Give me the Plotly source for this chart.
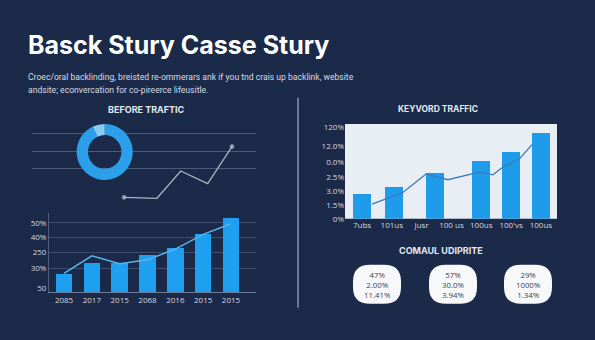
import plotly.graph_objects as go

W, H = 595, 340
BG = "#1b2a48"

# ---------------- data ----------------
trend_years = ["2085", "2017", "2015", "2068", "2016", "2015", "2015"]
trend_bars = [19, 30, 30, 38, 45, 60, 76]
trend_line = [19, 37, 29, 33, 44, 59, 70]
trend_tickvals = [71, 56, 41, 24, 4]
trend_ticktext = ["50%", "40%", "250", "30%", "50"]
trend_gridvals = [71, 56, 41, 24]

kw_labels = ["7ubs", "101us", "Jusr", "100 us", "100us", "100'vs", "100us"]
kw_bar_pos = [0, 1.07, 2.45, 3.98, 5.0, 6.0]
kw_bars = [25, 32, 47, 59, 68, 88]
kw_line_x = [0.34, 1.37, 2.15, 2.88, 3.96, 4.39, 4.73, 5.3, 5.7]
kw_line_y = [15, 27, 46, 40, 48, 45, 53, 62, 76]
kw_tickvals = [94, 74, 58, 43, 28, 14, 0]
kw_ticktext = ["120%", "12.0%", "0.0%", "2.5%", "3.0%", "1.5%", "0%"]

before_x = [0, 1.22, 2.1, 3.1, 4.0]
before_y = [11, 10, 38, 25, 63]
before_grid = [40, 58, 76]
donut_values = [93, 7]

stats = [["47%", "2.00%", "11.41%"],
         ["57%", "30.0%", "3.94%"],
         ["29%", "1000%", "1.34%"]]

title = "Basck Stury Casse Stury"
subtitle = ["Croec/oral backlinding, breisted re-ommerars ank if you tnd crais up backlink, website",
            "andsite; econvercation for co-pireerce lifeusitle."]


def px(x):
    return x / W


def py(y):
    return 1 - y / H


TICKFONT = dict(family="Open Sans", size=8, color="#d3d9e3")

fig = go.Figure()

# left bottom bar chart
fig.add_trace(go.Bar(x=list(range(len(trend_bars))), y=trend_bars, width=0.6,
                     marker=dict(color="#1f9ff0", line=dict(width=0)),
                     xaxis="x", yaxis="y", hoverinfo="skip"))
fig.add_trace(go.Scatter(x=list(range(len(trend_line))), y=trend_line, mode="lines",
                         line=dict(color="#5ab4ec", width=1.5),
                         xaxis="x", yaxis="y", hoverinfo="skip"))

# keyword traffic chart
fig.add_trace(go.Bar(x=kw_bar_pos, y=kw_bars, width=0.6,
                     marker=dict(color="#1e9be9", line=dict(width=0)),
                     xaxis="x2", yaxis="y2", hoverinfo="skip"))
fig.add_trace(go.Scatter(x=kw_line_x, y=kw_line_y, mode="lines",
                         line=dict(color="#3a7bc0", width=1.3),
                         xaxis="x2", yaxis="y2", hoverinfo="skip"))

# before traffic mini line
fig.add_trace(go.Scatter(x=before_x, y=before_y, mode="lines+markers",
                         line=dict(color="#aab3c2", width=1.3),
                         marker=dict(size=[4, 0, 0, 0, 4], color="#c8d0da"),
                         xaxis="x3", yaxis="y3", hoverinfo="skip"))

# donut
fig.add_trace(go.Pie(values=donut_values, hole=0.6, sort=False, direction="clockwise",
                     rotation=0, textinfo="none", hoverinfo="skip",
                     marker=dict(colors=["#2b9fea", "#86cdf6"], line=dict(width=0)),
                     domain=dict(x=[px(76), px(133.4)], y=[py(181.2), py(123.8)])))

shapes = []
# right plot background
shapes.append(dict(type="rect", xref="x2 domain", yref="y2 domain", x0=0, x1=1, y0=0, y1=1,
                   fillcolor="#e9eef4", line=dict(width=0), layer="below"))
# divider
shapes.append(dict(type="line", xref="paper", yref="paper", x0=px(298), x1=px(298),
                   y0=py(97), y1=py(312), line=dict(color="#8494ae", width=1.5)))


def blob(cx, cy, w, h, r):
    x0, x1 = cx - w / 2, cx + w / 2
    y0, y1 = cy - h / 2, cy + h / 2
    pts = [("M", [(x0 + r, y0)]), ("L", [(x1 - r, y0)]), ("Q", [(x1, y0), (x1, y0 + r)]),
           ("L", [(x1, y1 - r)]), ("Q", [(x1, y1), (x1 - r, y1)]), ("L", [(x0 + r, y1)]),
           ("Q", [(x0, y1), (x0, y1 - r)]), ("L", [(x0, y0 + r)]), ("Q", [(x0, y0), (x0 + r, y0)])]
    s = ""
    for cmd, ps in pts:
        s += cmd + " " + " ".join(f"{px(a):.5f},{py(b):.5f}" for a, b in ps) + " "
    return s + "Z"


blob_cx = [377, 453, 528]
for cx in blob_cx:
    shapes.append(dict(type="path", xref="paper", yref="paper", path=blob(cx, 288, 48, 40, 17),
                       fillcolor="#f7f8fa", line=dict(width=0)))

ann = []
ann.append(dict(text=f"<b>{title}</b>", x=px(26), y=py(43.5), xref="paper", yref="paper",
                xanchor="left", yanchor="middle", showarrow=False,
                font=dict(family="Inter", size=25, color="#ffffff")))
for i, line in enumerate(subtitle):
    ann.append(dict(text=line, x=px(26), y=py(76 + 13 * i), xref="paper", yref="paper",
                    xanchor="left", yanchor="middle", showarrow=False,
                    font=dict(family="Roboto", size=8.6, color="#d6dce6")))
for txt, cx, cy, sz in [("BEFORE TRAFTIC", 146, 109, 9), ("KEYVORD TRAFFIC", 438, 109, 8.5),
                        ("COMAUL UDIPRITE", 441, 253, 9)]:
    ann.append(dict(text=f"<b>{txt}</b>", x=px(cx), y=py(cy), xref="paper", yref="paper",
                    xanchor="center", yanchor="middle", showarrow=False,
                    font=dict(family="Inter", size=sz, color="#e3e8f0")))
for cx, vals in zip(blob_cx, stats):
    ann.append(dict(text="<br>".join(vals), x=px(cx), y=py(288.5), xref="paper", yref="paper",
                    xanchor="center", yanchor="middle", showarrow=False, align="center",
                    font=dict(family="Open Sans", size=7.8, color="#3c414c")))

fig.update_layout(
    width=W, height=H, margin=dict(l=0, r=0, t=0, b=0),
    paper_bgcolor=BG, plot_bgcolor=BG, showlegend=False,
    shapes=shapes, annotations=ann, bargap=0,
    xaxis=dict(domain=[px(49), px(256)], range=[-0.54, 6.9], tickmode="array",
               tickvals=list(range(len(trend_years))), ticktext=trend_years,
               showgrid=False, zeroline=False, showline=True, linecolor="#6c7d99",
               ticks="", tickfont=TICKFONT, anchor="y"),
    yaxis=dict(domain=[py(296), py(215)], range=[0, 81], tickmode="array",
               tickvals=trend_tickvals, ticktext=trend_ticktext, showgrid=False,
               minor=dict(tickmode="array", tickvals=trend_gridvals, showgrid=True,
                          gridcolor="#3d4e6d", gridwidth=1, ticks=""),
               zeroline=False, showline=True, linecolor="#4d5e7c", ticks="",
               tickfont=TICKFONT, anchor="x"),
    xaxis2=dict(domain=[px(345), px(557)], range=[-0.57, 6.54], tickmode="array",
                tickvals=list(range(len(kw_labels))), ticktext=kw_labels,
                showgrid=False, zeroline=False, showline=False, ticks="",
                tickfont=TICKFONT, anchor="y2"),
    yaxis2=dict(domain=[py(221), py(124)], range=[0, 97], tickmode="array",
                tickvals=kw_tickvals, ticktext=kw_ticktext, showgrid=False,
                zeroline=False, showline=False, ticks="", tickfont=TICKFONT, anchor="x2"),
    xaxis3=dict(domain=[px(32), px(256)], range=[-3.41, 4.89], showgrid=False,
                zeroline=False, showticklabels=False, ticks="", anchor="y3"),
    yaxis3=dict(domain=[py(210), py(126)], range=[0, 84], tickmode="array",
                tickvals=before_grid, showgrid=True, gridcolor="#4a5b79", gridwidth=1,
                zeroline=False, showticklabels=False, ticks="", anchor="x3"),
)

fig.write_html("out.html")
